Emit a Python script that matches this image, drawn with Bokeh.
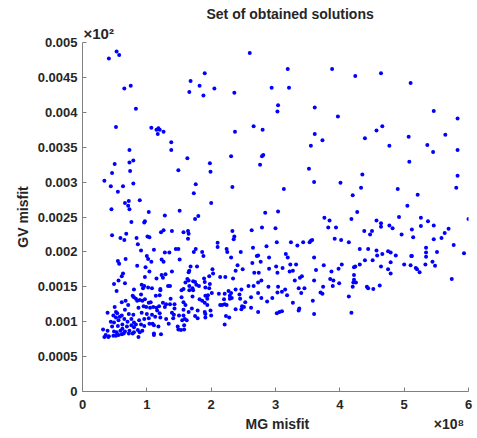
from bokeh.plotting import figure
from bokeh.models import Range1d, FixedTicker, Title, ColumnDataSource
from bokeh.embed import file_html
from bokeh.resources import INLINE

# MG misfit in units of 1e8, GV misfit in units of 1e-3 (as shown: x10^2 axis labels 0.0005 ... 0.005)
upper_left = [(0.53, 4.87), (0.57, 4.82), (0.41, 4.77), (0.65, 4.34), (0.75, 4.38), (0.83, 4.05),
              (0.52, 3.79), (1.07, 3.78), (1.15, 3.75), (1.18, 3.77), (1.20, 3.75), (1.17, 3.69),
              (1.26, 3.72), (1.38, 3.57), (1.38, 3.46), (0.73, 3.46), (0.50, 3.26), (0.73, 3.28),
              (0.79, 3.31), (0.46, 3.13), (0.74, 3.16), (1.49, 3.17), (0.34, 3.02), (0.44, 2.94),
              (0.63, 2.94), (0.79, 2.98), (0.55, 2.86)]
upper_mid = [(2.60, 4.85), (1.90, 4.56), (1.68, 4.45), (1.82, 4.38), (1.66, 4.29), (1.88, 4.24),
             (2.05, 4.34), (2.36, 4.28), (2.94, 4.35), (3.04, 4.10), (3.03, 4.01), (2.37, 3.72),
             (2.66, 3.80), (2.80, 3.75), (1.63, 3.34), (2.31, 3.37), (2.79, 3.37), (2.81, 3.39),
             (1.98, 3.27), (2.76, 3.25), (1.99, 3.15), (1.76, 2.97), (2.33, 2.93), (1.73, 2.84)]
upper_right = [(3.19, 4.62), (3.88, 4.62), (4.24, 4.52), (3.21, 4.35), (3.61, 4.07), (3.97, 3.94),
               (3.61, 3.69), (3.73, 3.60), (3.55, 3.52), (4.57, 3.74), (4.39, 3.63), (3.52, 3.19),
               (4.35, 3.11), (3.60, 3.00), (4.01, 2.99), (4.33, 2.92), (3.13, 2.90), (4.20, 2.81),
               (4.64, 4.56), (5.10, 4.42), (5.46, 4.02), (5.83, 3.91), (4.66, 3.80), (5.07, 3.65),
               (5.64, 3.68), (4.77, 3.52), (5.36, 3.53), (5.45, 3.43), (5.83, 3.46), (5.08, 3.29),
               (5.83, 3.09), (4.90, 2.90), (5.81, 2.92), (5.21, 2.82)]
lower_left = [(0.66, 2.70), (0.72, 2.73), (0.71, 2.66), (0.73, 2.61), (0.89, 2.74), (0.45, 2.61),
              (1.03, 2.57), (1.51, 2.59), (1.28, 2.52), (0.76, 2.43), (0.97, 2.44), (0.96, 2.42),
              (0.46, 2.24), (0.59, 2.20), (0.65, 2.17), (0.68, 2.26), (0.84, 2.20), (1.01, 2.22),
              (1.04, 2.21), (1.22, 2.28), (1.26, 2.31), (1.39, 2.30), (0.86, 2.11), (0.91, 2.02),
              (1.11, 2.03), (1.28, 1.99), (1.35, 1.99), (1.45, 2.04), (1.49, 2.04), (1.00, 1.94),
              (1.02, 1.90), (1.07, 1.86), (1.23, 1.89), (1.26, 1.86), (1.51, 1.89), (0.55, 1.87),
              (0.57, 1.83), (0.67, 1.90), (0.85, 1.80), (0.98, 1.78), (1.04, 1.72), (0.63, 1.69),
              (0.61, 1.65), (0.56, 1.59), (0.49, 1.54), (0.66, 1.55), (0.97, 1.64), (1.15, 1.62),
              (1.23, 1.67), (1.25, 1.63), (1.29, 1.68), (1.39, 1.72), (0.92, 1.53), (0.96, 1.51),
              (1.02, 1.49), (0.80, 1.46), (0.94, 1.48), (1.08, 1.48), (1.21, 1.47), (1.21, 1.45),
              (1.33, 1.51), (1.36, 1.51), (0.53, 1.44), (0.78, 1.37), (0.91, 1.39), (1.14, 1.37),
              (1.20, 1.38), (1.54, 1.45), (1.54, 1.35), (0.80, 1.35), (0.83, 1.33), (0.85, 1.30),
              (0.89, 1.31), (0.93, 1.30), (0.97, 1.32), (1.03, 1.27), (1.06, 1.28), (1.25, 1.27),
              (1.37, 1.33), (0.61, 1.28), (0.67, 1.30), (1.36, 1.25), (1.43, 1.25), (0.71, 1.24),
              (0.50, 1.21), (0.39, 1.13), (0.52, 1.14), (0.54, 1.12), (0.66, 1.17), (0.87, 1.20),
              (0.95, 1.22), (0.99, 1.21), (1.05, 1.20), (1.10, 1.21), (1.15, 1.20), (1.19, 1.22),
              (1.28, 1.21), (1.30, 1.25), (1.43, 1.19), (0.48, 1.09), (0.58, 1.07), (0.61, 1.09),
              (0.72, 1.11), (0.79, 1.10), (0.92, 1.13), (1.00, 1.11), (1.08, 1.10), (1.16, 1.16),
              (1.20, 1.12), (1.39, 1.13), (1.42, 1.10), (1.50, 1.09), (0.52, 1.06), (0.49, 0.99),
              (0.56, 1.02), (0.65, 1.04), (0.70, 1.00), (0.76, 1.04), (0.80, 0.99), (0.88, 1.02),
              (0.96, 1.04), (1.03, 1.05), (1.13, 1.07), (1.21, 1.06), (1.30, 1.04), (1.41, 1.05),
              (0.44, 1.00), (0.62, 0.96), (0.83, 0.96), (0.91, 0.96), (1.09, 0.97), (0.46, 0.93),
              (0.55, 0.94), (0.62, 0.90), (0.69, 0.93), (0.76, 0.95), (0.80, 0.92), (0.96, 0.94),
              (1.04, 0.97), (1.11, 0.95), (1.18, 0.93), (1.34, 0.97), (1.48, 0.93), (0.32, 0.89),
              (0.39, 0.87), (0.49, 0.86), (0.53, 0.85), (0.59, 0.87), (0.66, 0.86), (0.73, 0.87),
              (0.80, 0.85), (0.86, 0.88), (0.93, 0.87), (1.11, 0.83), (1.22, 0.82), (1.49, 0.89),
              (0.36, 0.81), (0.41, 0.79), (0.52, 0.80), (0.61, 0.82), (0.64, 0.83), (0.72, 0.83),
              (0.78, 0.83), (0.89, 0.85), (0.34, 0.78), (0.40, 0.78), (0.48, 0.80), (0.56, 0.81),
              (0.87, 0.78), (1.11, 0.81)]
lower_mid = [(2.00, 2.70), (1.80, 2.515), (1.75, 2.47), (2.84, 2.56), (3.04, 2.58), (1.57, 2.28),
             (1.64, 2.30), (1.65, 2.26), (1.64, 2.19), (2.33, 2.30), (2.36, 2.22), (2.35, 2.18),
             (2.63, 2.31), (2.79, 2.35), (3.00, 2.34), (3.02, 2.14), (2.10, 2.13), (2.10, 2.07),
             (2.24, 2.04), (2.25, 2.00), (2.46, 2.00), (2.65, 2.06), (2.86, 2.08), (1.76, 2.04),
             (1.73, 2.00), (1.86, 2.00), (1.88, 1.94), (2.31, 1.92), (2.71, 1.94), (2.73, 1.95),
             (2.90, 1.92), (2.64, 1.84), (2.77, 1.86), (1.68, 1.79), (1.66, 1.73), (1.65, 1.71),
             (1.78, 1.79), (2.02, 1.75), (2.03, 1.69), (1.97, 1.65), (2.38, 1.73), (2.41, 1.81),
             (2.49, 1.75), (2.67, 1.70), (2.74, 1.70), (2.90, 1.76), (3.01, 1.79), (3.03, 1.70),
             (1.63, 1.61), (1.65, 1.59), (1.72, 1.58), (1.75, 1.57), (1.89, 1.62), (1.90, 1.57),
             (2.14, 1.64), (2.22, 1.64), (2.34, 1.62), (1.60, 1.56), (1.66, 1.51), (1.71, 1.48),
             (1.77, 1.53), (1.81, 1.51), (1.98, 1.54), (1.57, 1.47), (1.66, 1.45), (1.91, 1.49),
             (1.97, 1.48), (2.01, 1.41), (1.72, 1.45), (2.58, 1.51), (2.66, 1.51), (2.73, 1.56),
             (2.78, 1.59), (2.89, 1.50), (3.04, 1.50), (2.47, 1.46), (2.38, 1.46), (2.27, 1.44),
             (2.31, 1.41), (1.71, 1.36), (1.82, 1.32), (1.91, 1.37), (1.94, 1.33), (1.95, 1.38),
             (2.12, 1.40), (2.21, 1.40), (2.29, 1.37), (2.32, 1.34), (2.44, 1.39), (2.45, 1.33),
             (2.62, 1.35), (2.73, 1.41), (2.78, 1.34), (2.95, 1.34), (3.03, 1.42), (1.57, 1.28),
             (1.60, 1.24), (1.86, 1.30), (1.90, 1.27), (1.94, 1.24), (2.14, 1.24), (2.17, 1.24),
             (2.21, 1.25), (2.24, 1.24), (2.29, 1.33), (2.20, 1.32), (2.87, 1.29), (2.53, 1.28),
             (2.48, 1.22), (2.47, 1.18), (2.38, 1.18), (2.62, 1.20), (2.73, 1.14), (1.57, 1.17),
             (1.70, 1.19), (1.79, 1.16), (1.90, 1.14), (1.99, 1.16), (1.65, 1.14), (1.57, 1.09),
             (1.59, 1.04), (1.62, 1.02), (1.75, 1.08), (1.79, 1.05), (1.91, 1.11), (1.91, 1.06),
             (2.00, 1.09), (2.23, 1.08), (2.28, 1.06), (2.51, 1.21), (1.55, 1.02), (3.02, 1.12),
             (3.06, 1.14), (1.58, 0.95), (1.58, 0.89), (1.53, 0.88), (2.21, 0.96)]
lower_right = [(3.76, 2.49), (3.84, 2.45), (3.82, 2.35), (3.94, 2.35), (4.27, 2.57), (4.18, 2.47),
               (4.57, 2.45), (4.38, 2.30), (4.50, 2.30), (4.47, 2.25), (3.24, 2.14), (3.34, 2.09),
               (3.43, 2.14), (3.53, 2.14), (3.55, 2.16), (3.57, 2.17), (3.92, 2.19), (4.02, 2.17),
               (4.14, 2.14), (4.31, 2.04), (4.44, 2.04), (4.57, 2.02), (4.58, 1.95), (3.16, 1.97),
               (3.19, 1.92), (3.60, 1.92), (4.39, 1.88), (4.51, 1.88), (3.23, 1.82), (3.32, 1.82),
               (3.75, 1.81), (4.03, 1.82), (3.98, 1.76), (4.22, 1.78), (4.24, 1.79), (4.31, 1.82),
               (3.11, 1.77), (3.22, 1.72), (3.27, 1.73), (3.63, 1.74), (3.87, 1.72), (3.41, 1.65),
               (3.38, 1.63), (3.30, 1.59), (3.60, 1.59), (3.85, 1.61), (3.90, 1.59), (3.99, 1.55),
               (4.22, 1.67), (4.22, 1.60), (4.25, 1.56), (4.21, 1.56), (4.20, 1.50), (3.89, 1.51),
               (3.74, 1.50), (3.36, 1.48), (3.45, 1.48), (3.15, 1.46), (3.10, 1.43), (3.18, 1.38),
               (3.40, 1.41), (3.70, 1.42), (3.73, 1.40), (4.42, 1.50), (4.44, 1.48), (4.52, 1.47),
               (3.58, 1.30), (3.27, 1.27), (4.14, 1.36), (3.37, 1.19), (3.36, 1.16), (3.60, 1.11),
               (4.18, 1.13), (3.10, 1.15)]
lower_far = [(5.05, 2.66), (4.92, 2.50), (5.26, 2.49), (5.37, 2.44), (5.26, 2.37), (5.46, 2.38),
             (6.00, 2.47), (4.64, 2.41), (4.64, 2.36), (4.77, 2.38), (4.82, 2.34), (5.12, 2.32),
             (4.96, 2.25), (5.14, 2.21), (5.69, 2.33), (5.63, 2.27), (5.58, 2.20), (5.46, 2.18),
             (5.77, 2.10), (5.93, 1.98), (5.34, 2.06), (5.34, 1.99), (5.34, 1.93), (5.51, 2.00),
             (4.75, 2.01), (4.79, 1.99), (4.66, 1.97), (4.87, 1.95), (5.11, 1.94), (5.12, 1.94),
             (4.79, 1.85), (4.64, 1.79), (4.75, 1.75), (4.79, 1.69), (5.00, 1.82), (5.10, 1.81),
             (5.18, 1.77), (5.20, 1.75), (5.24, 1.71), (5.33, 1.82), (5.44, 1.86), (5.48, 1.80),
             (5.74, 1.61), (4.62, 1.52)]

x_ticks = [0, 1, 2, 3, 4, 5, 6]
x_tick_labels = ["0", "1", "2", "3", "4", "5", "6"]
y_ticks = [0.0, 0.5, 1.0, 1.5, 2.0, 2.5, 3.0, 3.5, 4.0, 4.5, 5.0]
y_tick_labels = ["0", "0.0005", "0.001", "0.0015", "0.002", "0.0025",
                 "0.003", "0.0035", "0.004", "0.0045", "0.005"]

groups = [upper_left, upper_mid, upper_right, lower_left, lower_mid, lower_right, lower_far]
mg = [pt[0] for g in groups for pt in g]
gv = [pt[1] for g in groups for pt in g]

p = figure(width=477, height=438, output_backend="svg", toolbar_location=None,
           x_range=Range1d(0, 6), y_range=Range1d(0, 5),
           min_border_left=82, min_border_right=9, min_border_top=42, min_border_bottom=47)
p.title_location = None
p.outline_line_color = None
p.xgrid.visible = False
p.ygrid.visible = False
p.background_fill_color = "white"
p.border_fill_color = "white"

src = ColumnDataSource(dict(x=mg, y=gv))
p.scatter("x", "y", source=src, size=4, fill_color="#0000ff", line_color=None, marker="circle")

FONT = "Liberation Sans"
INK = "#262626"
for ax, ticks, labels, standoff in ((p.xaxis[0], x_ticks, x_tick_labels, 8),
                                    (p.yaxis[0], y_ticks, y_tick_labels, 5)):
    ax.ticker = FixedTicker(ticks=ticks)
    ax.major_label_overrides = {t: l for t, l in zip(ticks, labels)}
    ax.minor_tick_line_color = None
    ax.major_tick_in = 4
    ax.major_tick_out = 0
    ax.axis_line_color = "#808080"
    ax.major_tick_line_color = "#808080"
    ax.major_label_text_font = FONT
    ax.major_label_text_font_style = "bold"
    ax.major_label_text_font_size = "13px"
    ax.major_label_text_color = INK
    ax.major_label_standoff = standoff

p.yaxis.axis_label = "GV misfit"
p.yaxis.axis_label_text_font = FONT
p.yaxis.axis_label_text_font_style = "bold"
p.yaxis.axis_label_text_font_size = "14px"
p.yaxis.axis_label_text_color = INK
p.yaxis.axis_label_standoff = 4

HAS_STANDOFF = "standoff" in Title.properties()

def make_title(text, offset, standoff, size="14px"):
    t = Title(text=text, align="left", offset=offset, text_font=FONT, text_font_size=size,
              text_font_style="bold", text_color=INK)
    if HAS_STANDOFF:
        t.standoff = standoff
    return t

p.add_layout(make_title("\u00d710\u00b2", 1, 1, "15px"), "above")
p.add_layout(make_title("Set of obtained solutions", 124, 2), "above")
gap = "\u00a0" * 32
p.add_layout(make_title("MG misfit" + gap + "\u00d710\u2078", 163, 5), "below")

open("out.html", "w").write(file_html(p, INLINE))
